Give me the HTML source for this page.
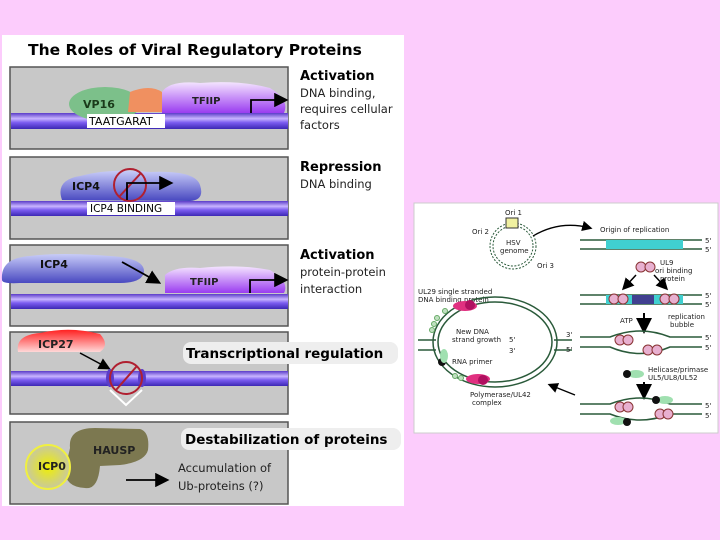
<!DOCTYPE html>
<html><head><meta charset="utf-8"><style>
html,body{margin:0;padding:0;background:#fcccfc;}
svg{display:block}
text{font-family:"DejaVu Sans","Liberation Sans",sans-serif}
</style></head><body>
<svg width="720" height="540" viewBox="0 0 720 540" xmlns="http://www.w3.org/2000/svg">
<defs>
<linearGradient id="dna" x1="0" y1="0" x2="0" y2="1">
<stop offset="0" stop-color="#5a3cc8"/><stop offset="0.35" stop-color="#c8b4ff"/><stop offset="0.6" stop-color="#7b5cf0"/><stop offset="1" stop-color="#3c28b4"/></linearGradient>
<linearGradient id="blue" x1="0" y1="0" x2="0" y2="1"><stop offset="0" stop-color="#c8ccf8"/><stop offset="1" stop-color="#4848c0"/></linearGradient>
<linearGradient id="purp" x1="0" y1="0" x2="0" y2="1"><stop offset="0" stop-color="#f4e4ff"/><stop offset="1" stop-color="#9a3cf0"/></linearGradient>
<linearGradient id="red" x1="0" y1="0" x2="0" y2="1"><stop offset="0" stop-color="#ff2020"/><stop offset="1" stop-color="#ffd8d8"/></linearGradient>
<radialGradient id="yel"><stop offset="0" stop-color="#f0f000"/><stop offset="1" stop-color="#c8c8a0"/></radialGradient>
<marker id="ah" markerWidth="8" markerHeight="8" refX="6" refY="4" orient="auto"><path d="M0,0 L8,4 L0,8 Z" fill="#000"/></marker>
</defs>
<rect x="2" y="35" width="402" height="471" fill="#fff"/>
<text x="28" y="55" font-size="15.5" font-weight="bold">The Roles of Viral Regulatory Proteins</text>
<g stroke="#555" stroke-width="1.5" fill="#c8c8c8">
<rect x="10" y="67" width="278" height="82"/>
<rect x="10" y="157" width="278" height="82"/>
<rect x="10" y="245" width="278" height="81"/>
<rect x="10" y="332" width="278" height="82"/>
<rect x="10" y="422" width="278" height="82"/>
</g>
<!-- box1 -->
<rect x="11" y="113" width="277" height="16" fill="url(#dna)"/>
<ellipse cx="105" cy="104" rx="36" ry="17" fill="#7cc08a"/>
<path d="M130 92 Q150 84 162 92 Q172 100 165 112 L128 112 Z" fill="#f09060"/>
<path d="M162 113 L162 92 Q170 80 200 83 Q240 80 270 88 Q290 100 284 113 Z" fill="url(#purp)"/>
<text x="83" y="108" font-size="11" font-weight="bold" fill="#1a3a1a">VP16</text>
<text x="192" y="104" font-size="10" font-weight="bold" fill="#222">TFIIP</text>
<rect x="87" y="114" width="78" height="14" fill="#fff"/>
<text x="89" y="125" font-size="11">TAATGARAT</text>
<path d="M251 113 V100 H285" stroke="#000" stroke-width="1.8" fill="none" marker-end="url(#ah)"/>
<text x="300" y="80" font-size="13" font-weight="bold">Activation</text>
<text x="300" y="97" font-size="11.5" fill="#222">DNA binding,</text>
<text x="300" y="113" font-size="11.5" fill="#222">requires cellular</text>
<text x="300" y="129" font-size="11.5" fill="#222">factors</text>
<!-- box2 -->
<rect x="11" y="201" width="277" height="15" fill="url(#dna)"/>
<path d="M62 200 Q55 180 80 176 Q110 168 150 172 Q195 170 200 185 Q205 200 190 201 Z" fill="url(#blue)"/>
<text x="72" y="190" font-size="11" font-weight="bold" fill="#111">ICP4</text>
<circle cx="130" cy="185" r="16" fill="none" stroke="#b02030" stroke-width="2"/>
<line x1="119" y1="197" x2="141" y2="173" stroke="#b02030" stroke-width="2"/>
<path d="M127 200 V183 H170" stroke="#000" stroke-width="1.8" fill="none" marker-end="url(#ah)"/>
<rect x="87" y="202" width="88" height="13" fill="#fff"/>
<text x="90" y="212" font-size="10.5">ICP4 BINDING</text>
<text x="300" y="171" font-size="13" font-weight="bold">Repression</text>
<text x="300" y="188" font-size="11.5" fill="#222">DNA binding</text>
<!-- box3 -->
<rect x="11" y="294" width="277" height="15" fill="url(#dna)"/>
<path d="M2 280 Q0 258 30 256 Q60 252 110 256 Q145 258 144 272 Q142 283 120 283 L20 283 Q2 284 2 280Z" fill="url(#blue)"/>
<text x="40" y="268" font-size="11" font-weight="bold" fill="#111">ICP4</text>
<path d="M165 293 L165 275 Q175 266 200 268 Q240 264 270 270 Q290 282 284 293 Z" fill="url(#purp)"/>
<text x="190" y="285" font-size="10" font-weight="bold" fill="#222">TFIIP</text>
<line x1="122" y1="262" x2="158" y2="282" stroke="#000" stroke-width="1.8" marker-end="url(#ah)"/>
<path d="M250 293 V280 H285" stroke="#000" stroke-width="1.8" fill="none" marker-end="url(#ah)"/>
<text x="300" y="259" font-size="13" font-weight="bold">Activation</text>
<text x="300" y="276" font-size="11.5" fill="#222">protein-protein</text>
<text x="300" y="293" font-size="11.5" fill="#222">interaction</text>
<!-- box4 -->
<rect x="11" y="371" width="277" height="15" fill="url(#dna)"/>
<path d="M18 352 Q15 335 40 333 Q70 326 100 334 Q110 345 100 352 Z" fill="url(#red)"/>
<text x="38" y="348" font-size="11" font-weight="bold" fill="#222">ICP27</text>
<line x1="80" y1="353" x2="108" y2="368" stroke="#000" stroke-width="1.5" marker-end="url(#ah)"/>
<path d="M110 390 L126 405 L142 390" stroke="#fff" stroke-width="2" fill="none"/>
<ellipse cx="110" cy="378" rx="4" ry="9" fill="#5a3cc8"/><ellipse cx="142" cy="378" rx="4" ry="9" fill="#5a3cc8"/>
<circle cx="126" cy="378" r="16" fill="none" stroke="#b02030" stroke-width="2"/>
<line x1="116" y1="390" x2="137" y2="366" stroke="#b02030" stroke-width="2"/>
<rect x="183" y="342" width="215" height="22" rx="8" fill="#eee"/>
<text x="186" y="358" font-size="13.5" font-weight="bold">Transcriptional regulation</text>
<!-- box5 -->
<path d="M70 448 Q68 428 95 428 L140 429 Q150 432 148 450 Q145 462 120 465 L100 466 Q98 490 85 488 Q65 487 65 470 Z" fill="#7c7850"/>
<circle cx="48" cy="467" r="22" fill="url(#yel)" stroke="#f0f040" stroke-width="2"/>
<text x="38" y="470" font-size="11" font-weight="bold" fill="#222">ICP0</text>
<text x="93" y="454" font-size="11" font-weight="bold" fill="#222">HAUSP</text>
<rect x="181" y="428" width="220" height="22" rx="8" fill="#eee"/>
<text x="185" y="444" font-size="13.5" font-weight="bold">Destabilization of proteins</text>
<line x1="126" y1="480" x2="166" y2="480" stroke="#000" stroke-width="1.8" marker-end="url(#ah)"/>
<text x="178" y="472" font-size="11.5" fill="#222">Accumulation of</text>
<text x="178" y="490" font-size="11.5" fill="#222">Ub-proteins (?)</text>
<!-- right image -->
<rect x="414" y="203" width="304" height="230" fill="#fff" stroke="#ccc"/>
<g font-size="7" fill="#222">
<circle cx="513" cy="246" r="23" fill="none" stroke="#2a5a3a" stroke-dasharray="2 1.5"/>
<circle cx="513" cy="246" r="20" fill="none" stroke="#2a5a3a" stroke-dasharray="2 1.5"/>
<rect x="506" y="218" width="12" height="10" fill="#f0f0a0" stroke="#333"/>
<text x="505" y="215">Ori 1</text><text x="472" y="234">Ori 2</text><text x="537" y="268">Ori 3</text>
<text x="506" y="245">HSV</text><text x="500" y="253">genome</text>
<path d="M533 236 Q560 220 590 228" stroke="#000" fill="none" stroke-width="1.3" marker-end="url(#ah)"/>
<text x="600" y="232">Origin of replication</text>
<line x1="580" y1="240" x2="702" y2="240" stroke="#2a5a3a" stroke-width="1.5"/>
<line x1="580" y1="249" x2="702" y2="249" stroke="#2a5a3a" stroke-width="1.5"/>
<rect x="606" y="240" width="77" height="9" fill="#40d0d0"/>
<text x="705" y="243">5'</text><text x="705" y="252">5'</text>
<circle cx="641" cy="267" r="5" fill="#e8b0d0" stroke="#833"/><circle cx="650" cy="267" r="5" fill="#e8b0d0" stroke="#833"/>
<text x="660" y="265">UL9</text><text x="655" y="273">ori binding</text><text x="660" y="281">protein</text>
<line x1="636" y1="275" x2="624" y2="288" stroke="#000" stroke-width="1.5" marker-end="url(#ah)"/>
<line x1="654" y1="275" x2="666" y2="288" stroke="#000" stroke-width="1.5" marker-end="url(#ah)"/>
<line x1="580" y1="295" x2="702" y2="295" stroke="#2a5a3a" stroke-width="1.5"/>
<line x1="580" y1="304" x2="702" y2="304" stroke="#2a5a3a" stroke-width="1.5"/>
<rect x="606" y="295" width="77" height="9" fill="#40d0d0"/><rect x="632" y="295" width="22" height="9" fill="#404090"/>
<circle cx="614" cy="299" r="5" fill="#e8b0d0" stroke="#833"/><circle cx="623" cy="299" r="5" fill="#e8b0d0" stroke="#833"/>
<circle cx="665" cy="299" r="5" fill="#e8b0d0" stroke="#833"/><circle cx="674" cy="299" r="5" fill="#e8b0d0" stroke="#833"/>
<text x="705" y="298">5'</text><text x="705" y="307">5'</text>
<text x="620" y="323">ATP</text><line x1="644" y1="313" x2="644" y2="330" stroke="#000" stroke-width="2" marker-end="url(#ah)"/>
<text x="668" y="319">replication</text><text x="670" y="327">bubble</text>
<path d="M580 337 H610 Q640 325 670 337 H702 M580 347 H610 Q640 360 670 347 H702" stroke="#2a5a3a" stroke-width="1.5" fill="none"/>
<circle cx="620" cy="340" r="5" fill="#e8b0d0" stroke="#833"/><circle cx="628" cy="340" r="5" fill="#e8b0d0" stroke="#833"/>
<circle cx="648" cy="350" r="5" fill="#e8b0d0" stroke="#833"/><circle cx="657" cy="350" r="5" fill="#e8b0d0" stroke="#833"/>
<text x="705" y="340">5'</text><text x="705" y="350">5'</text>
<ellipse cx="636" cy="374" rx="8" ry="4" fill="#a0e0b0"/><circle cx="627" cy="374" r="4" fill="#111"/>
<text x="648" y="372">Helicase/primase</text><text x="648" y="380">UL5/UL8/UL52</text>
<line x1="644" y1="382" x2="644" y2="396" stroke="#000" stroke-width="2" marker-end="url(#ah)"/>
<path d="M580 404 H610 Q640 392 670 404 H702 M580 414 H610 Q640 426 670 414 H702" stroke="#2a5a3a" stroke-width="1.5" fill="none"/>
<circle cx="620" cy="407" r="5" fill="#e8b0d0" stroke="#833"/><circle cx="628" cy="407" r="5" fill="#e8b0d0" stroke="#833"/>
<circle cx="660" cy="414" r="5" fill="#e8b0d0" stroke="#833"/><circle cx="668" cy="414" r="5" fill="#e8b0d0" stroke="#833"/>
<ellipse cx="665" cy="400" rx="8" ry="4" fill="#a0e0b0"/><circle cx="656" cy="400" r="4" fill="#111"/>
<ellipse cx="618" cy="421" rx="8" ry="4" fill="#a0e0b0"/><circle cx="627" cy="422" r="4" fill="#111"/>
<text x="705" y="408">5'</text><text x="705" y="418">5'</text>
<line x1="575" y1="395" x2="550" y2="385" stroke="#000" stroke-width="1.3" marker-end="url(#ah)"/>
<text x="418" y="294">UL29 single stranded</text><text x="418" y="302">DNA binding protein</text>
<ellipse cx="495" cy="342" rx="62" ry="45" fill="none" stroke="#2a5a3a" stroke-width="1.5"/>
<ellipse cx="495" cy="342" rx="57" ry="40" fill="none" stroke="#2a5a3a" stroke-width="1.5"/>
<line x1="418" y1="340" x2="436" y2="340" stroke="#2a5a3a" stroke-width="1.5"/>
<line x1="418" y1="350" x2="436" y2="350" stroke="#2a5a3a" stroke-width="1.5"/>
<line x1="554" y1="340" x2="572" y2="340" stroke="#2a5a3a" stroke-width="1.5"/>
<line x1="554" y1="350" x2="572" y2="350" stroke="#2a5a3a" stroke-width="1.5"/>
<ellipse cx="465" cy="306" rx="12" ry="5" fill="#e03080"/><circle cx="470" cy="305" r="5" fill="#b01060"/>
<ellipse cx="478" cy="379" rx="12" ry="5" fill="#e03080"/><circle cx="483" cy="380" r="5" fill="#b01060"/>
<circle cx="442" cy="362" r="4" fill="#111"/><ellipse cx="444" cy="356" rx="4" ry="7" fill="#a0e0b0"/>
<g fill="#c0e0c0" stroke="#6a6"><circle cx="437" cy="318" r="2.5"/><circle cx="434" cy="324" r="2.5"/><circle cx="432" cy="330" r="2.5"/><circle cx="445" cy="311" r="2.5"/><circle cx="455" cy="376" r="2.5"/><circle cx="461" cy="378" r="2.5"/></g>
<text x="456" y="334">New DNA</text><text x="452" y="342">strand growth</text>
<text x="509" y="342">5'</text><text x="509" y="353">3'</text><text x="566" y="337">3'</text><text x="566" y="352">5'</text>
<text x="452" y="364">RNA primer</text>
<text x="470" y="397">Polymerase/UL42</text><text x="472" y="405">complex</text>
</g>
</svg>
</body></html>
